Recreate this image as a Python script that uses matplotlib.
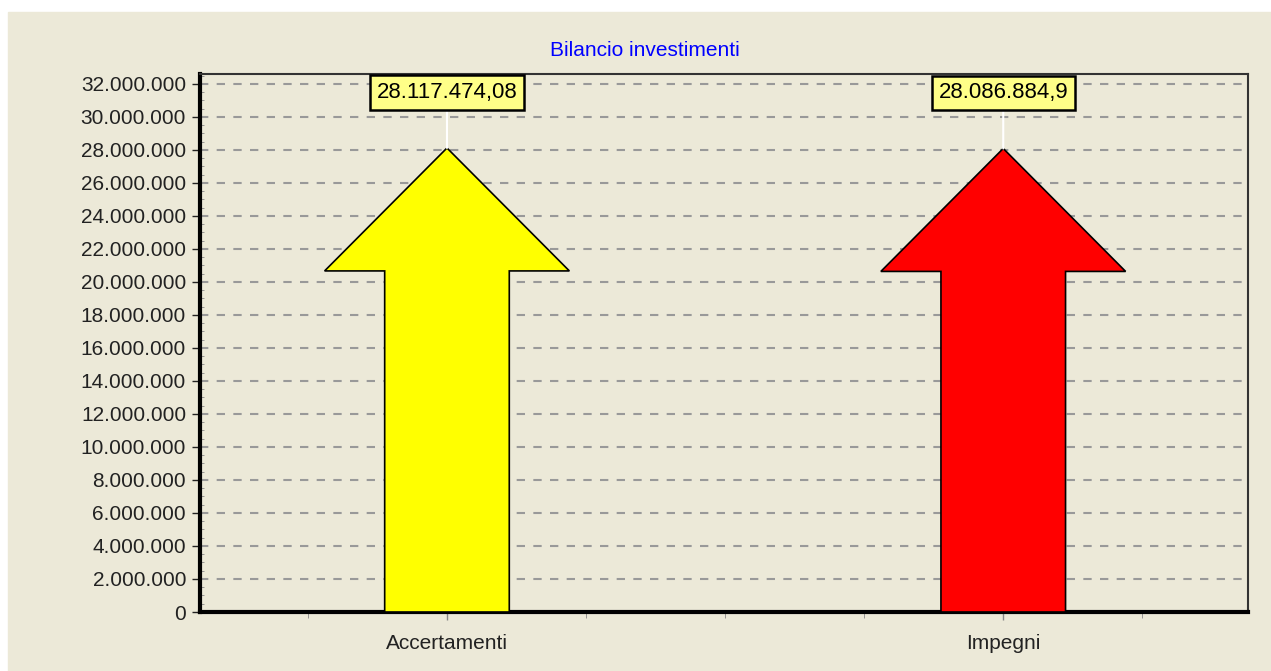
import matplotlib.pyplot as plt
from matplotlib.patches import Polygon
from matplotlib.ticker import FuncFormatter, MultipleLocator

categorie = ["Accertamenti", "Impegni"]
valori = [28117474.08, 28086884.9]
etichette = ["28.117.474,08", "28.086.884,9"]
colori = ["#FFFF00", "#FF0000"]

BG = "#ECE9D8"
plt.rcParams['font.family'] = ['Liberation Sans', 'DejaVu Sans']

fig = plt.figure(figsize=(12.71, 6.71), dpi=100, facecolor="white")
# sfondo beige con bordo bianco in alto e a sinistra
fig.patches.append(plt.Rectangle((8 / 1271, 0), 1, 1 - 12 / 671,
                                 transform=fig.transFigure, color=BG, zorder=-10))
ax = fig.add_axes([200 / 1271, 1 - 612 / 671, 1048 / 1271, 538 / 671])
ax.set_facecolor(BG)

ymax = 32600000
ax.set_ylim(0, ymax)
ax.set_xlim(-0.444, 1.44)

# frecce
semi_asta = 0.112
semi_testa = 0.22
lung_testa = 7450000
for i, (v, c) in enumerate(zip(valori, colori)):
    b = v - lung_testa
    pts = [(i - semi_asta, 0), (i - semi_asta, b), (i - semi_testa, b), (i, v),
           (i + semi_testa, b), (i + semi_asta, b), (i + semi_asta, 0)]
    ax.add_patch(Polygon(pts, closed=True, facecolor=c, edgecolor="black",
                         linewidth=1.2, zorder=3))
    ax.annotate(etichette[i], xy=(i, v), xytext=(0, 40), textcoords="offset points",
                ha="center", va="center", fontsize=16, zorder=5,
                bbox=dict(boxstyle="square,pad=0.3", fc="#FFFF88", ec="black", lw=1.8),
                arrowprops=dict(arrowstyle="-", color="white", lw=1.5, shrinkA=0, shrinkB=0))

ax.yaxis.set_major_locator(MultipleLocator(2000000))
ax.yaxis.set_minor_locator(MultipleLocator(500000))
ax.yaxis.set_major_formatter(FuncFormatter(lambda x, p: f"{int(x):,}".replace(",", ".")))
ax.set_xticks(range(len(categorie)))
ax.set_xticklabels(categorie)
ax.xaxis.set_minor_locator(MultipleLocator(0.25))

ax.grid(axis="y", which="major", color="#999999", linestyle=(0, (4, 4)), linewidth=1.5, zorder=1)
ax.set_axisbelow(True)
ax.tick_params(axis="both", which="major", labelsize=15, colors="#222222", length=6, width=1)
ax.tick_params(axis="y", which="major", direction="out", pad=4)
ax.tick_params(axis="y", which="minor", direction="in", length=3, color="#888888")
ax.tick_params(axis="x", which="minor", direction="out", length=4, color="#888888")
ax.tick_params(axis="x", which="major", color="#888888", pad=10)

for s in ["top", "right"]:
    ax.spines[s].set_color("#333333")
    ax.spines[s].set_linewidth(1.5)
for s in ["left", "bottom"]:
    ax.spines[s].set_color("black")
    ax.spines[s].set_linewidth(3)

fig.text(645 / 1271, 1 - 50 / 671, "Bilancio investimenti", color="#0000FF",
         fontsize=15, ha="center", va="center")

fig.savefig("out.png", dpi=100, facecolor="white")
